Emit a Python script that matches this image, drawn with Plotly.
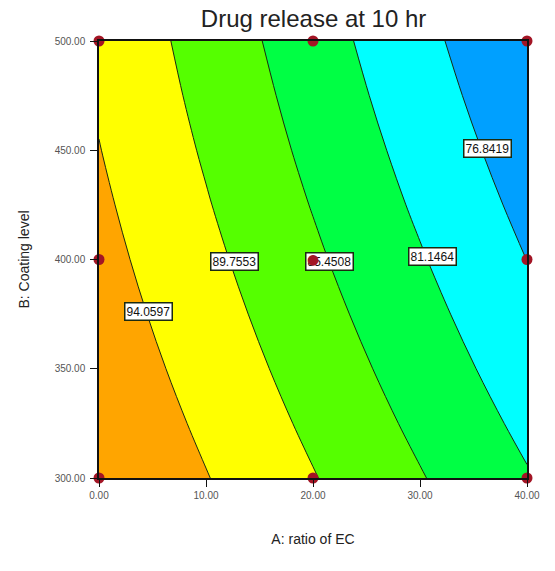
import plotly.graph_objects as go

# Factor settings
ratio_ec = [0, 10, 20, 30, 40]                       # A: ratio of EC
coating = [300, 325, 350, 375, 400, 425, 450, 475, 500]  # B: coating level

# Predicted drug release at 10 hr (%), rows follow coating, columns follow ratio_ec
release = [
    [98.49, 94.23, 89.97, 85.71, 81.45],
    [97.65, 93.29, 88.93, 84.57, 80.22],
    [96.85, 92.39, 87.94, 83.48, 79.03],
    [96.10, 91.55, 87.00, 82.45, 77.89],
    [95.41, 90.76, 86.11, 81.46, 76.81],
    [94.77, 90.02, 85.27, 80.52, 75.78],
    [94.17, 89.33, 84.48, 79.64, 74.79],
    [93.63, 88.69, 83.75, 78.80, 73.86],
    [93.14, 88.10, 83.06, 78.02, 72.98],
]

# Contour levels drawn and labelled
levels = [76.8419, 81.1464, 85.4508, 89.7553, 94.0597]

# Design points
design_a = [0, 0, 0, 20, 20, 20, 40, 40, 40]
design_b = [300, 400, 500, 300, 400, 500, 300, 400, 500]

# Label placement for each contour level (A, B)
label_pos = [(36.3, 451), (31.2, 401.5), (21.5, 399), (12.7, 399), (4.6, 376)]

POINT_COLOR = "#A31525"
LINE_COLOR = "#1a2a10"
FONT = "Liberation Sans, Arial"

step = (levels[-1] - levels[0]) / (len(levels) - 1)
band_colors = ["#00A0FF", "#00FFFF", "#00FF44", "#55FF00", "#FFFF00", "#FFA500"]
n = len(band_colors)
colorscale = [[i / (n - 1), c] for i, c in enumerate(band_colors)]

fig = go.Figure()
fig.add_trace(go.Contour(
    x=ratio_ec, y=coating, z=release,
    contours=dict(start=levels[0], end=levels[-1] + 1e-6, size=step,
                  coloring="fill", showlabels=False),
    colorscale=colorscale,
    line=dict(color=LINE_COLOR, width=1),
    showscale=False,
    hoverinfo="skip",
))

fig.add_trace(go.Scatter(
    x=design_a, y=design_b, mode="markers",
    marker=dict(color=POINT_COLOR, size=11, line=dict(width=0)),
    cliponaxis=False, showlegend=False, hoverinfo="skip",
))

# Boxed value labels on the contour lines
for lev, (ax_, bx_) in zip(levels, label_pos):
    fig.add_annotation(
        x=ax_, y=bx_, text=f"{lev:.4f}", showarrow=False,
        font=dict(family=FONT, size=12, color="#111111"),
        bgcolor="#FFFFFF", bordercolor=LINE_COLOR, borderwidth=1.5, borderpad=1,
    )

# Design points that sit on a label are redrawn on top of it
for a, b in zip(design_a, design_b):
    for ax_, bx_ in label_pos:
        if abs(a - ax_) < 3 and abs(b - bx_) < 8:
            fig.add_annotation(
                x=a, y=b, text="●", showarrow=False, yshift=1,
                font=dict(family="DejaVu Sans", size=14, color=POINT_COLOR),
            )

axis_common = dict(
    showgrid=False, zeroline=False, showline=True, linecolor="#111111", linewidth=1.5,
    mirror=True, ticks="outside", ticklen=7, tickcolor="#111111", tickwidth=1.2,
    tickfont=dict(family=FONT, size=10, color="#555555"),
    tickformat=".2f",
)

fig.update_layout(
    width=555, height=571,
    margin=dict(l=99, r=28, t=41, b=93),
    paper_bgcolor="white", plot_bgcolor="white",
    title=dict(text="Drug release at 10 hr", x=0.565, xanchor="center", y=0.968, yanchor="middle",
               font=dict(family=FONT, size=24, color="#222222")),
    xaxis=dict(range=[0, 40], tickvals=[0, 10, 20, 30, 40], **axis_common,
               title=dict(text="A: ratio of EC", standoff=34,
                          font=dict(family=FONT, size=14, color="#222222"))),
    yaxis=dict(range=[300, 500], tickvals=[300, 350, 400, 450, 500], **axis_common,
               ticklabelstandoff=3,
               title=dict(text="B: Coating level", standoff=22,
                          font=dict(family=FONT, size=14, color="#222222"))),
)

fig.write_html("out.html")
